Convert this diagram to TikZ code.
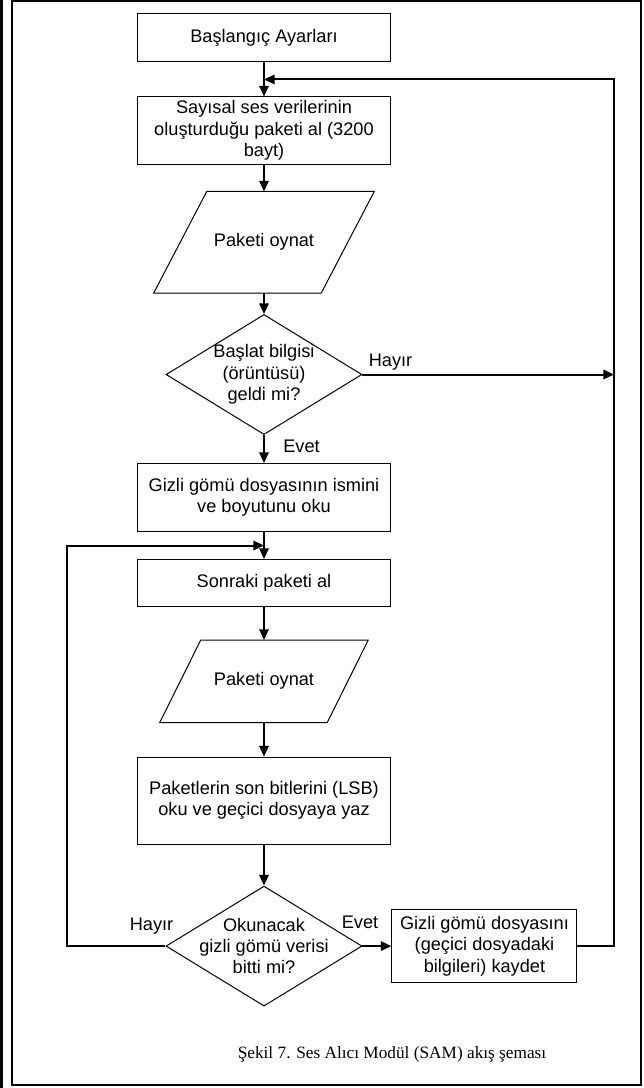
\documentclass[tikz,border=0pt]{standalone}
\usepackage{fontspec}
\setmainfont{Liberation Sans}
\newfontfamily\capfont{Liberation Serif}
\usetikzlibrary{positioning}
\usetikzlibrary{shapes.geometric}
\usetikzlibrary{arrows.meta}

\begin{document}
\begin{tikzpicture}
[
font=\fontsize{13.7}{16.1}\selectfont,
box-a/.style={rectangle, draw, line width=0.75pt, minimum width=66.68mm, inner sep=0.00mm, align=center},
par-a/.style={rectangle, inner sep=0.00mm},
edge-a/.style={line width=0.75pt},
dec-a/.style={diamond, draw, line width=0.75pt, minimum width=51.86mm, minimum height=31.75mm, inner sep=0.00mm},
text-a/.style={black, inner sep=0.00mm, align=center},
arrow-a/.style={line width=1.5pt, -{Triangle[length=8pt, width=7pt]}}
]
\useasboundingbox (-69.85mm, 10.05mm) rectangle (100.28mm, -277.82mm);
\node (box-1)     [box-a, minimum height=12.70mm                        ] {Başlangıç Ayarları};
\node (box-2)     [box-a, minimum height=17.73mm, below = 09.00mm of box-1] {Sayısal ses verilerinin\\oluşturduğu paketi al (3200\\bayt)};
\node (par-1)     [par-a, minimum width=58.21mm, minimum height=26.72mm, below = 07.14mm of box-2] {Paketi oynat};
\node (dec-1)     [dec-a, below = 05.56mm of par-1] {};
\node (dec-1-txt) [text-a] at (dec-1) {Başlat bilgisi\\(örüntüsü)\\geldi mi?};
\node (box-3)     [box-a, minimum height=17.99mm, below = 07.41mm of dec-1] {Gizli gömü dosyasının ismini\\ve boyutunu oku};
\node (box-4)     [box-a, minimum height=12.44mm, below = 07.14mm of box-3] {Sonraki paketi al};
\node (par-2)     [par-a, minimum width=55.03mm, minimum height=21.70mm, below = 08.73mm of box-4] {Paketi oynat};
\node (box-5)     [box-a, minimum height=23.02mm, below = 09.00mm of par-2] {Paketlerin son bitlerini (LSB)\\oku ve geçici dosyaya yaz};
\node (dec-2)     [dec-a, below = 10.85mm of box-5] {};
\node (dec-2-txt) [text-a] at (dec-2) {Okunacak\\gizli gömü verisi\\bitti mi?};
\node (box-6)     [box-a, minimum width=48.95mm, minimum height=19.31mm, right = 07.67mm of dec-2] {Gizli gömü dosyasını\\(geçici dosyadaki\\bilgileri) kaydet};

% slanted sides of the two data boxes
\draw [edge-a] ([xshift=14.02mm]par-1.north west) -- (par-1.north east) -- ([xshift=-14.02mm]par-1.south east) -- (par-1.south west) -- cycle;
\draw [edge-a] ([xshift=10.85mm]par-2.north west) -- (par-2.north east) -- ([xshift=-10.85mm]par-2.south east) -- (par-2.south west) -- cycle;

% labels on the branches
\node (hayir-1) [text-a, above right = 00.98mm and 01.59mm of dec-1.east] {Hayır};
\node (evet-1)  [text-a, below right = 01.19mm and 05.03mm of dec-1.south] {Evet};
\node (hayir-2) [text-a, above left  = 03.18mm and 00.00mm of dec-2.west, xshift=02.12mm] {Hayır};
\node (evet-2)  [text-a, above left  = 04.63mm and 00.00mm of dec-2.east, xshift=04.23mm] {Evet};

% loop points
\coordinate (junc-1) at ([yshift=-04.50mm]box-1.south);
\coordinate (junc-2) at ([yshift=-03.57mm]box-3.south);
\coordinate (loop-r) at (92.61mm, 0mm);
\coordinate (loop-l) at (-52.12mm, 0mm);

\draw [arrow-a] (box-1) -- (box-2);
\draw [arrow-a] (box-2) -- (par-1);
\draw [arrow-a] (par-1) -- (dec-1);
\draw [arrow-a] (dec-1) -- (box-3);
\draw [arrow-a] (box-3) -- (box-4);
\draw [arrow-a] (box-4) -- (par-2);
\draw [arrow-a] (par-2) -- (box-5);
\draw [arrow-a] (box-5) -- (dec-2);
\draw [arrow-a] (dec-2.east) -- (box-6.west);
\draw [arrow-a] (dec-1.east) -- (loop-r |- dec-1.east);
\draw [arrow-a] (box-6.east) -| (loop-r |- junc-1) -- (junc-1);
\draw [arrow-a] (dec-2.west) -| (loop-l |- junc-2) -- (junc-2);

% frame and caption
\node (caption) [text-a, font=\capfont\fontsize{13}{15}\selectfont] at (33.87mm, -268.82mm) {Şekil 7. Ses Alıcı Modül (SAM) akış şeması};
\draw [line width=1.5pt] (-66.68mm, 09.79mm) rectangle (99.75mm, -277.03mm);
\draw [line width=2.25pt] (-69.45mm, 10.05mm) -- (-69.45mm, -277.82mm);
\end{tikzpicture}
\end{document}
